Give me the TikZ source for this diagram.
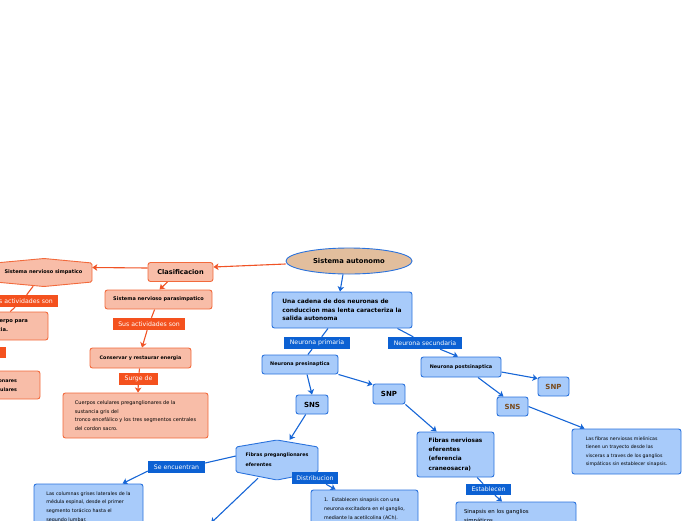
\documentclass[tikz,border=0pt]{standalone}
\usepackage{fontspec}
\setmainfont{DejaVu Sans}
\usetikzlibrary{arrows.meta,shapes.geometric,calc}
\pgfdeclarelayer{bg}
\pgfsetlayers{bg,main}
\definecolor{cBfill}{HTML}{A8CBFA}
\definecolor{cBline}{HTML}{2A72DC}
\definecolor{cBcon}{HTML}{1766D6}
\definecolor{cBlab}{HTML}{0C61D3}
\definecolor{cOfill}{HTML}{F8BDA8}
\definecolor{cOline}{HTML}{F26A3C}
\definecolor{cOcon}{HTML}{F05325}
\definecolor{cOlab}{HTML}{F4511E}
\definecolor{cEfill}{HTML}{E2BE9D}
\definecolor{cBrown}{HTML}{7A4A1A}
\newcommand\myfs[2]{\fontsize{#1pt}{#2pt}\selectfont}
\newcommand\padr[1]{\rule{#1}{0pt}}
\tikzset{
  bbox/.style={draw=cBline, fill=cBfill, line width=0.9pt, rounded corners=2.5pt, inner sep=0pt},
  obox/.style={draw=cOline, fill=cOfill, line width=0.9pt, rounded corners=2.5pt, inner sep=0pt},
  bshape/.style={draw=cBline, fill=cBfill, line width=0.9pt, rounded corners=1.5pt},
  oshape/.style={draw=cOline, fill=cOfill, line width=0.9pt, rounded corners=1.5pt},
  blabel/.style={fill=cBlab, text=white, inner sep=0pt, font=\myfs{6.2}{7}},
  olabel/.style={fill=cOlab, text=white, inner sep=0pt, font=\myfs{6.2}{7}},
  bcon/.style={draw=cBcon, line width=1.1pt, -{Stealth[length=5pt,width=6.5pt,inset=1.2pt]}},
  bln/.style={draw=cBcon, line width=1.1pt},
  ocon/.style={draw=cOcon, line width=1.1pt, -{Stealth[length=5pt,width=6.5pt,inset=1.2pt]}},
  oln/.style={draw=cOcon, line width=1.1pt},
}
\begin{document}
\begin{tikzpicture}[x=1pt,y=-1pt]
\useasboundingbox (0,0) rectangle (696,520);
\clip (0,0) rectangle (696,520);

% ---- orange part ----
\node[ellipse, draw=cBline, fill=cEfill, line width=0.9pt, minimum width=126pt, minimum height=26pt, inner sep=0pt, font=\myfs{6.8}{8}\bfseries] (ell) at (349,261) {Sistema autonomo};
\node[obox, minimum width=65pt, minimum height=19pt, font=\myfs{6.6}{8}\bfseries] (clas) at (180.5,272) {Clasificacion};
\draw[oshape] (-5,263) -- (44,258.5) -- (92,263) -- (92,282) -- (44,286.5) -- (-5,282) -- cycle;
\node[inner sep=0pt, minimum width=97pt, minimum height=27pt, font=\myfs{5}{6}\bfseries] (simp) at (43.5,272.5) {Sistema nervioso simpatico};
\node[obox, minimum width=107pt, minimum height=19pt, font=\myfs{5}{6}\bfseries] (para) at (158.5,299.5) {Sistema nervioso parasimpatico};
\node[olabel, minimum width=72pt, minimum height=12pt] (lsus) at (149,324) {Sus actividades son};
\node[obox, minimum width=101pt, minimum height=20pt, font=\myfs{4.8}{6}\bfseries] (cons) at (140.5,358) {Conservar y restaurar energia};
\node[olabel, minimum width=39pt, minimum height=12pt] (lsur) at (138.5,379) {Surge de};
\node[obox, minimum width=145pt, minimum height=45pt, align=left, font=\myfs{5}{8.7}] (cuer) at (135.5,415.5) {Cuerpos celulares preganglionares de la\\sustancia gris del\\tronco encef\'alico y los tres segmentos centrales\\del cordon sacro.};
\node[olabel, minimum width=72pt, minimum height=12pt] (lsusL) at (22,301) {Sus actividades son};
\node[obox, minimum width=108pt, minimum height=28pt, text width=92pt, align=right, font=\myfs{5.2}{9}\bfseries] (lbox1) at (-6,326) {Preparar el cuerpo para\padr{12pt}\\la emergencia.\padr{32pt}};
\node[olabel, minimum width=39pt, minimum height=11pt] (lsurL) at (-13.5,352.5) {Surge de};
\node[obox, minimum width=110pt, minimum height=28pt, text width=86pt, align=right, font=\myfs{4.8}{8.5}\bfseries] (lbox2) at (-15,385) {Neuronas preganglionares\padr{11pt}\\en columnas celulares\padr{11pt}};

% ---- blue part ----
\node[bbox, minimum width=140pt, minimum height=36pt, align=left, font=\myfs{5.9}{8.7}\bfseries] (cad) at (342,310) {Una cadena de dos neuronas de\\conduccion mas lenta caracteriza la\\salida autonoma};
\node[blabel, minimum width=66pt, minimum height=12pt] (lprim) at (317,343) {Neurona primaria};
\node[blabel, minimum width=74pt, minimum height=12pt] (lsec) at (425,343) {Neurona secundaria};
\node[bbox, minimum width=76pt, minimum height=19pt, font=\myfs{4.9}{6}\bfseries] (pre) at (300,364.5) {Neurona presinaptica};
\node[bbox, minimum width=80pt, minimum height=20pt, font=\myfs{4.9}{6}\bfseries] (post) at (461,367) {Neurona postsinaptica};
\node[bbox, minimum width=32pt, minimum height=19pt, font=\myfs{7}{8}\bfseries] (sns1) at (312,404.5) {SNS};
\node[bbox, minimum width=32pt, minimum height=20pt, font=\myfs{7}{8}\bfseries] (snp1) at (389,394) {SNP};
\node[bbox, minimum width=31pt, minimum height=19pt, text=cBrown, font=\myfs{7}{8}\bfseries] (snp2) at (553.5,386.5) {SNP};
\node[bbox, minimum width=31pt, minimum height=19pt, text=cBrown, font=\myfs{7}{8}\bfseries] (sns2) at (512.5,406.5) {SNS};
\node[bbox, minimum width=109pt, minimum height=45pt, align=left, font=\myfs{4.7}{8.5}] (mie) at (626.5,451.5) {Las fibras nerviosas mielinicas\\tienen un trayecto desde las\\visceras a traves de los ganglios\\simp\'aticos sin establecer sinapsis.};
\node[bbox, minimum width=77pt, minimum height=45pt, align=left, font=\myfs{5.8}{9.3}\bfseries] (fne) at (455.5,454.5) {Fibras nerviosas\\eferentes\\(eferencia\\craneosacra)};
\node[blabel, minimum width=45pt, minimum height=11pt] (lest) at (488.5,489.5) {Establecen};
\node[bbox, minimum width=120pt, minimum height=29pt, text width=104pt, align=left, font=\myfs{5.4}{9}] (sin) at (516,516.5) {Sinapsis en los ganglios\\simp\'aticos.};
\draw[bshape] (236,447) -- (277,440) -- (318,447) -- (318,472) -- (277,480) -- (236,472) -- cycle;
\node[inner sep=0pt, minimum width=82pt, minimum height=40pt, align=left, font=\myfs{4.8}{10}\bfseries] (fpe) at (277,460) {Fibras preganglionares\\eferentes};
\node[blabel, minimum width=57pt, minimum height=12pt] (lse) at (176.5,467) {Se encuentran};
\node[blabel, minimum width=46pt, minimum height=12pt] (ldis) at (315,478) {Distribucion};
\node[bbox, minimum width=109pt, minimum height=46pt, align=left, font=\myfs{4.8}{8.7}] (col) at (88.5,507) {Las columnas grises laterales de la\\m\'edula espinal, desde el primer\\segmento tor\'acico hasta el\\segundo lumbar.};
\node[bbox, minimum width=107pt, minimum height=38pt, align=left, font=\myfs{4.8}{9}] (est1) at (364.5,509) {1.\ \ Establecen sinapsis con una\\neurona excitadora en el ganglio,\\mediante la acetilcolina (ACh).};
\coordinate (bl) at (211,523);

% ---- connectors ----
\begin{pgfonlayer}{bg}
\clip (0,0) rectangle (696,520);
\draw[ocon] ($(ell.west)+(0,3)$) -- ($(clas.east)+(0,-5)$);
\draw[ocon] ($(clas.west)+(0,-4)$) -- ($(simp.east)+(0,-5)$);
\draw[ocon] ($(clas.south)+(-13,0)$) -- ($(para.north)+(1,0)$);
\draw[oln] (para) -- (lsus);
\draw[ocon] (lsus) -- ($(cons.north)+(1.5,0)$);
\draw[oln] (cons) -- (lsur);
\draw[ocon] (lsur) -- ($(cuer.north)+(2.5,0)$);
\draw[oln] (simp) -- (lsusL);
\draw[oln] (lsusL) -- (lbox1);
\draw[oln] (lbox1) -- (lsurL);
\draw[oln] (lsurL) -- (lbox2);

\draw[bcon] ($(ell.south)+(-6,0)$) -- ($(cad.north)+(-2,0)$);
\draw[bln] (cad) -- (lprim);
\draw[bln] (lprim) -- (pre);
\draw[bln] ($(cad.south east)+(-15,0)$) -- (lsec);
\draw[bcon] (lsec) -- ($(post.north)+(-3,0)$);
\draw[bcon] ($(pre.south)+(7,0)$) -- (sns1.north);
\draw[bcon] (pre.south east) -- ($(snp1.north west)+(0,1)$);
\draw[bcon] ($(post.east)+(0,5)$) -- ($(snp2.west)+(0,-8)$);
\draw[bcon] ($(post.south)+(17,0)$) -- ($(sns2.north)+(-9,0)$);
\draw[bcon] (sns2.east) -- ($(mie.north west)+(13,0)$);
\draw[bcon] (snp1.south east) -- ($(fne.north west)+(20,0)$);
\draw[bln] (fne) -- (lest);
\draw[bcon] (lest) -- ($(sin.north)+(-14,0)$);
\draw[bcon] (sns1) -- (fpe);
\draw[bln] ($(fpe.west)+(0,-4)$) -- ($(lse.east)+(0,-4)$);
\draw[bcon] ($(lse.west)+(0,4)$) -- ($(col.north)+(34,0)$);
\draw[bln] (fpe.center) -- (ldis.center);
\draw[bcon] (ldis) -- ($(est1.north west)+(25,0)$);
\draw[bcon] ($(fpe.south)+(-19,-2)$) -- (bl);
\end{pgfonlayer}
\end{tikzpicture}
\end{document}
